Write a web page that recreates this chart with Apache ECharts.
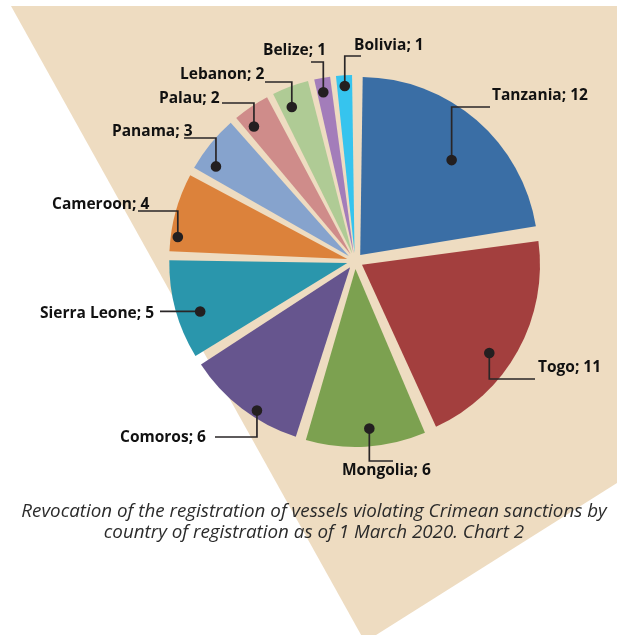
<!DOCTYPE html>
<html>
<head>
<meta charset="utf-8">
<script src="https://cdn.jsdelivr.net/npm/echarts@6/dist/echarts.min.js"></script>
<style>
  html, body { margin: 0; padding: 0; background: #ffffff; }
  #chart { width: 617px; height: 635px; }
</style>
</head>
<body>
<div id="chart"></div>
<script>
// Vessels whose registration was revoked, by flag state (clockwise from 12 o'clock)
const countries = ['Tanzania', 'Togo', 'Mongolia', 'Comoros', 'Sierra Leone', 'Cameroon',
                   'Panama', 'Palau', 'Lebanon', 'Belize', 'Bolivia'];
const vessels = [12, 11, 6, 6, 5, 4, 3, 2, 2, 1, 1];

const sliceColors = ['#3a6ea5', '#a33f3e', '#7ca150', '#66558e', '#2a96ac', '#dc823b',
                     '#86a3cd', '#cf8c8a', '#afcb95', '#a37dba', '#36c4ee'];

const captionLines = [
  'Revocation of the registration of vessels violating Crimean sanctions by',
  'country of registration as of 1 March 2020. Chart 2'
];

// Pie geometry
const PIE_CENTER = [355, 261];
const PIE_RADIUS = 178;
const EXPLODE = 8;
const BEIGE = '#eedcc1';

// Callouts: pin inside each slice (t = share of the slice's sweep, f = share of radius),
// elbow height of the leader, where the leader stops, and where the text sits.
const callouts = [
  { t: 0.54, f: 0.74, lineY: 107, endX: 490, textX: 492, textY: 96 },   // Tanzania
  { t: 0.58, f: 0.87, lineY: 379, endX: 535, textX: 538, textY: 368 },  // Togo
  { t: 0.46, f: 0.90, lineY: 461, endX: 393, textX: 342, textY: 471 },  // Mongolia
  { t: 0.39, f: 0.96, lineY: 437, endX: 215, textX: 120, textY: 438 },  // Comoros
  { t: 0.41, f: 0.87, lineY: null, endX: 160, textX: 40, textY: 314 },  // Sierra Leone
  { t: 0.19, f: 0.96, lineY: 211, endX: 138, textX: 52, textY: 205 },   // Cameroon
  { t: 0.23, f: 0.90, lineY: 138, endX: 184, textX: 112, textY: 132 },  // Panama
  { t: 0.24, f: 0.90, lineY: 103, endX: 222, textX: 159, textY: 99 },   // Palau
  { t: 0.33, f: 0.89, lineY: 82, endX: 265, textX: 180, textY: 75 },    // Lebanon
  { t: 0.41, f: 0.92, lineY: 62, endX: 311, textX: 263, textY: 51 },    // Belize
  { t: 0.51, f: 0.94, lineY: 56, endX: 361, textX: 354, textY: 46 }     // Bolivia
];

const chart = echarts.init(document.getElementById('chart'), null, { renderer: 'canvas' });

const backdrop = {
  type: 'polygon',
  z: 0,
  silent: true,
  shape: { points: [[11, 6], [620, 6], [620, 481], [365, 642]] },
  style: { fill: BEIGE }
};

const captionText = captionLines.map((line, i) => ({
  type: 'text',
  z: 5,
  silent: true,
  x: 314,
  y: 512 + i * 21,
  style: {
    text: line,
    fill: '#2b2b2b',
    font: 'italic 18.8px "Open Sans"',
    textAlign: 'center',
    textVerticalAlign: 'middle'
  }
}));

chart.setOption({
  animation: false,
  backgroundColor: '#ffffff',
  graphic: { elements: [backdrop].concat(captionText) },
  series: [{
    type: 'pie',
    center: PIE_CENTER,
    radius: PIE_RADIUS,
    startAngle: 90,
    clockwise: true,
    padAngle: 1.6,
    selectedMode: 'multiple',
    selectedOffset: EXPLODE,
    avoidLabelOverlap: false,
    label: { show: false },
    labelLine: { show: false },
    emphasis: { disabled: true },
    data: countries.map((name, i) => ({
      name: name,
      value: vessels[i],
      selected: true,
      itemStyle: { color: sliceColors[i] },
      select: { itemStyle: { color: sliceColors[i], borderWidth: 0 } }
    }))
  }]
});

// Leader lines and labels, anchored on the slices laid out by the pie series
const pieData = chart.getModel().getSeriesByIndex(0).getData();
const annotations = [];
countries.forEach((name, i) => {
  const lay = pieData.getItemLayout(i);
  const c = callouts[i];
  const mid = (lay.startAngle + lay.endAngle) / 2;
  const ang = lay.startAngle + c.t * (lay.endAngle - lay.startAngle);
  const rr = c.f * lay.r;
  const px = lay.cx + Math.cos(mid) * EXPLODE + Math.cos(ang) * rr;
  const py = lay.cy + Math.sin(mid) * EXPLODE + Math.sin(ang) * rr;
  const pts = c.lineY === null
    ? [[px, py], [c.endX, py]]
    : [[px, py], [px, c.lineY], [c.endX, c.lineY]];
  annotations.push({
    type: 'polyline', z: 20, silent: true,
    shape: { points: pts },
    style: { stroke: '#2a2627', lineWidth: 1.7, fill: null }
  });
  annotations.push({
    type: 'circle', z: 21, silent: true,
    shape: { cx: px, cy: py, r: 5.3 },
    style: { fill: '#231f20' }
  });
  annotations.push({
    type: 'text', z: 22, silent: true,
    x: c.textX, y: c.textY,
    style: {
      text: name + '; ' + vessels[i],
      fill: '#111111',
      font: 'bold 15.5px "Open Sans"',
      textAlign: 'left',
      textVerticalAlign: 'middle'
    }
  });
});

chart.setOption({
  graphic: { elements: [backdrop].concat(captionText, annotations) }
});
</script>
</body>
</html>
